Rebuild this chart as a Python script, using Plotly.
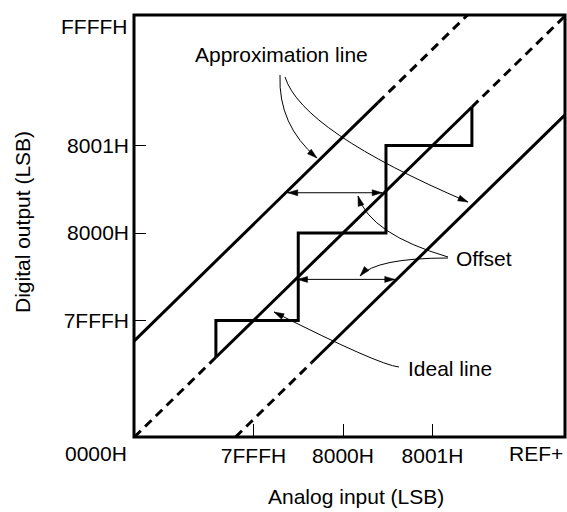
import plotly.graph_objects as go

# ---------------- data ----------------
x_tick_vals = [-1, 0, 1]
x_tick_text = ["7FFFH", "8000H", "8001H"]
y_tick_vals = [-1, 0, 1]
y_tick_text = ["7FFFH", "8000H", "8001H"]
x_range = [-2.335, 2.48]      # 0000H ... REF+ (in LSB around 8000H)
y_range = [-2.331, 2.491]     # 0000H ... FFFFH

# actual conversion characteristic (staircase)
stair_x = [-1.42, -1.42, -0.5, -0.5, 0.48, 0.48, 1.44, 1.44]
stair_y = [-1.42, -1.0, -1.0, 0.0, 0.0, 1.0, 1.0, 1.44]

ideal_solid_span = [-1.42, 1.44]          # x span of the solid part of the ideal line
approx_offsets = [1.1, -1.13]             # upper / lower approximation lines (y = x + c)
approx_upper_solid_end = 0.39
approx_lower_solid_start = -0.35
offset_arrow_y = [0.46, -0.53]            # levels of the offset dimension arrows

FONT = "Liberation Sans, Arial, Helvetica, sans-serif"
FS = 21

# plot-area geometry in pixels
W, H = 567, 512
L, R, T, B = 134, 565, 15, 437


def X(px):
    return x_range[0] + (px - L) / (R - L) * (x_range[1] - x_range[0])


def Y(py):
    return y_range[1] - (py - T) / (B - T) * (y_range[1] - y_range[0])


def PX(x):
    return L + (x - x_range[0]) / (x_range[1] - x_range[0]) * (R - L)


def PY(y):
    return T + (y_range[1] - y) / (y_range[1] - y_range[0]) * (B - T)


def line_span(c):
    x0 = max(x_range[0], y_range[0] - c)
    x1 = min(x_range[1], y_range[1] - c)
    return x0, x1


fig = go.Figure()


def add_line(xs, c, dashed):
    fig.add_trace(go.Scatter(
        x=xs, y=[v + c for v in xs], mode="lines",
        line=dict(color="black", width=3, dash="9px,6px" if dashed else "solid"),
        hoverinfo="skip"))


# ideal line
x0, x1 = line_span(0)
add_line([x0, ideal_solid_span[0]], 0, True)
add_line([ideal_solid_span[0], ideal_solid_span[1]], 0, False)
add_line([ideal_solid_span[1], x1], 0, True)

# upper approximation line
c = approx_offsets[0]
x0, x1 = line_span(c)
add_line([x0, approx_upper_solid_end], c, False)
add_line([approx_upper_solid_end, x1], c, True)

# lower approximation line
c = approx_offsets[1]
x0, x1 = line_span(c)
add_line([x0, approx_lower_solid_start], c, True)
add_line([approx_lower_solid_start, x1], c, False)

# staircase
fig.add_trace(go.Scatter(x=stair_x, y=stair_y, mode="lines",
                         line=dict(color="black", width=3), hoverinfo="skip"))

shapes = []


def arrowhead(tip, d, length=10, half=3):
    import math
    n = math.hypot(d[0], d[1])
    ux, uy = d[0] / n, d[1] / n
    bx, by = tip[0] - length * ux, tip[1] - length * uy
    c1 = (bx - half * uy, by + half * ux)
    c2 = (bx + half * uy, by - half * ux)
    pts = [tip, c1, c2]
    path = "M {},{} L {},{} L {},{} Z".format(*[v for p in pts for v in (X(p[0]), Y(p[1]))])
    shapes.append(dict(type="path", path=path, xref="x", yref="y",
                       fillcolor="black", line=dict(color="black", width=0.5)))


def curve(p0, p1, p2):
    path = "M {},{} Q {},{} {},{}".format(X(p0[0]), Y(p0[1]), X(p1[0]), Y(p1[1]),
                                          X(p2[0]), Y(p2[1]))
    shapes.append(dict(type="path", path=path, xref="x", yref="y",
                       line=dict(color="black", width=1)))
    arrowhead(p2, (p2[0] - p1[0], p2[1] - p1[1]))


# callout curves (pixel geometry)
curve((280, 75), (278, 125), (317, 158))      # Approximation line -> upper
curve((285, 77), (302, 131), (468, 202))      # Approximation line -> lower
curve((448, 257), (370, 234), (358, 196))     # Offset -> upper arrow
curve((448, 258), (376, 258), (360, 276))     # Offset -> lower arrow
curve((399, 367), (379, 365), (274, 312))     # Ideal line -> ideal line


def dim_arrow(xa, xb, yv, gap=2):
    pa, pb, py = PX(xa) + gap, PX(xb) - gap, PY(yv)
    shapes.append(dict(type="line", xref="x", yref="y", x0=X(pa), x1=X(pb),
                       y0=yv, y1=yv, line=dict(color="black", width=1)))
    arrowhead((pa, py), (-1, 0))
    arrowhead((pb, py), (1, 0))


yv = offset_arrow_y[0]
dim_arrow(yv - approx_offsets[0], yv, yv)
yv = offset_arrow_y[1]
dim_arrow(yv, yv - approx_offsets[1], yv)

# frame
shapes.append(dict(type="rect", xref="paper", yref="paper", x0=0, x1=1, y0=0, y1=1,
                   line=dict(color="black", width=3), layer="above"))

annotations = []


def text(s, px, py, xanchor="left", angle=0):
    annotations.append(dict(text=s, x=(px - L) / (R - L), y=(B - py) / (B - T),
                            xref="paper", yref="paper", showarrow=False,
                            xanchor=xanchor, yanchor="middle", textangle=angle,
                            font=dict(family=FONT, size=FS, color="black")))


text("Approximation line", 193, 55)
text("Offset", 454, 258)
text("Ideal line", 406, 368)
text("FFFFH", 129, 27, "right")
text("0000H", 129, 453, "right")
text("REF+", 565, 453, "right")
text("Analog input (LSB)", 356, 497, "center")
text("Digital output (LSB)", 22, 222, "center", -90)

fig.update_layout(
    width=W, height=H,
    margin=dict(l=L, r=W - R, t=T, b=H - B),
    paper_bgcolor="white", plot_bgcolor="white",
    showlegend=False,
    shapes=shapes, annotations=annotations,
    xaxis=dict(range=x_range, tickvals=x_tick_vals, ticktext=x_tick_text,
               ticks="inside", ticklen=13, tickwidth=1, tickcolor="black",
               showgrid=False, zeroline=False, showline=False, fixedrange=True,
               tickfont=dict(family=FONT, size=FS, color="black"),
               ticklabelstandoff=4),
    yaxis=dict(range=y_range, tickvals=y_tick_vals, ticktext=y_tick_text,
               ticks="inside", ticklen=12, tickwidth=1, tickcolor="black",
               showgrid=False, zeroline=False, showline=False, fixedrange=True,
               tickfont=dict(family=FONT, size=FS, color="black"),
               ticklabelstandoff=4),
)

fig.write_html("out.html", config={"displayModeBar": False},
               post_script="document.body.style.margin='0';document.body.style.overflow='hidden';")
